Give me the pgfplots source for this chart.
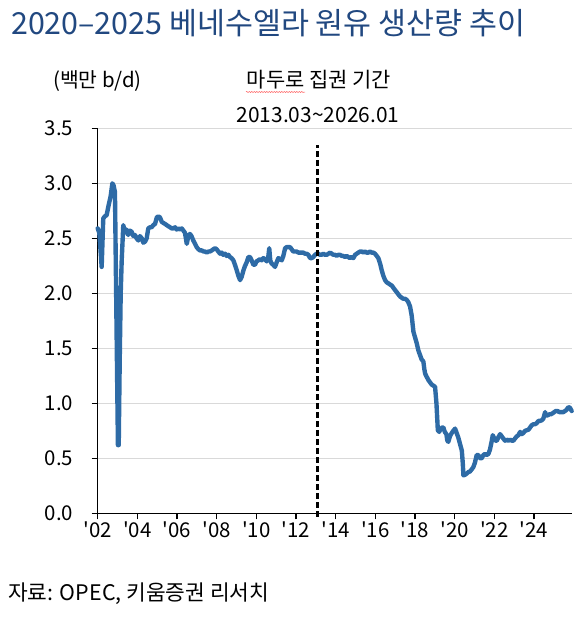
\documentclass[border=0pt]{standalone}
\usepackage{pgfplots}
\pgfplotsset{compat=1.18}
\usetikzlibrary{decorations.pathmorphing}
\usepackage{fontspec}
\setmainfont{Noto Sans CJK KR}
\definecolor{linec}{RGB}{46,107,166}
\definecolor{gridc}{RGB}{217,217,217}
\definecolor{titlec}{RGB}{33,72,128}
\begin{document}
\begin{tikzpicture}
\useasboundingbox (0,0) rectangle (588bp,-620bp);
\node[anchor=west,text=titlec,font=\fontsize{30.5}{33}\selectfont,inner sep=0pt] at (11bp,-23bp) {2020–2025 베네수엘라 원유 생산량 추이};
\node[font=\fontsize{20.5}{24}\selectfont,inner sep=0pt] at (97.5bp,-81bp) {(백만 b/d)};
\node[font=\fontsize{21}{24}\selectfont,inner sep=0pt] at (319bp,-80bp) {마두로 집권 기간};
\draw[red!65, line width=0.5pt, decorate, decoration={snake, amplitude=0.6bp, segment length=2.5bp}] (246bp,-92bp) -- (305bp,-92bp);
\node[font=\fontsize{21}{24}\selectfont,inner sep=0pt] at (318bp,-115bp) {2013.03\char"007E 2026.01};
\node[anchor=west,font=\fontsize{21.5}{24}\selectfont,inner sep=0pt] at (8bp,-594bp) {자료: OPEC, 키움증권 리서치};
\begin{axis}[
  at={(97.7bp,-513.3bp)}, anchor=south west,
  scale only axis, width=474bp, height=385bp,
  xmin=2002, xmax=2025.9, ymin=0, ymax=3.5,
  clip=false,
  axis x line*=bottom, axis y line*=left,
  axis line style={black, line width=1.2pt, -},
  xtick={2002,2004,...,2024},
  xticklabels={\textquotesingle 02,\textquotesingle 04,\textquotesingle 06,\textquotesingle 08,\textquotesingle 10,\textquotesingle 12,\textquotesingle 14,\textquotesingle 16,\textquotesingle 18,\textquotesingle 20,\textquotesingle 22,\textquotesingle 24},
  ytick={0,0.5,...,3.5},
  yticklabel style={/pgf/number format/fixed, /pgf/number format/fixed zerofill, /pgf/number format/precision=1, /pgf/number format/assume math mode=true, xshift=-15bp},
  xticklabel style={yshift=1bp},
  tick label style={font=\fontsize{20.5}{24}\selectfont},
  tick align=outside, major tick length=6bp,
  tick style={black, line width=1.2pt},
  ymajorgrids, grid style={gridc, line width=1.6pt},
]
\addplot[linec, line width=4.4pt, line join=round, line cap=round] coordinates {
(2002.00,2.59)(2002.08,2.55)(2002.14,2.40)(2002.20,2.24)(2002.28,2.68)(2002.36,2.70)(2002.45,2.71)
(2002.55,2.80)(2002.65,2.88)(2002.74,3.00)(2002.80,2.98)(2002.87,2.92)
(2003.02,0.62)(2003.06,0.62)(2003.11,1.39)(2003.16,2.00)(2003.21,2.30)(2003.29,2.62)
(2003.37,2.55)(2003.45,2.58)(2003.54,2.53)(2003.62,2.57)(2003.71,2.56)(2003.80,2.52)(2003.88,2.53)
(2003.96,2.50)(2004.05,2.48)(2004.13,2.52)(2004.22,2.50)(2004.30,2.46)(2004.39,2.47)(2004.47,2.50)
(2004.55,2.59)(2004.63,2.60)(2004.72,2.60)(2004.80,2.62)(2004.89,2.63)(2004.98,2.69)(2005.06,2.70)
(2005.14,2.69)(2005.23,2.65)(2005.31,2.64)(2005.40,2.63)(2005.48,2.62)(2005.56,2.61)(2005.65,2.60)
(2005.73,2.59)(2005.81,2.59)(2005.90,2.60)(2005.98,2.58)(2006.07,2.59)(2006.15,2.58)(2006.24,2.59)
(2006.32,2.57)(2006.40,2.55)(2006.49,2.45)(2006.57,2.52)(2006.65,2.54)(2006.73,2.52)(2006.82,2.48)
(2006.91,2.45)(2006.99,2.42)(2007.08,2.40)(2007.16,2.39)(2007.25,2.39)(2007.33,2.38)(2007.41,2.38)
(2007.50,2.37)(2007.58,2.38)(2007.66,2.38)(2007.75,2.39)(2007.83,2.40)(2007.92,2.41)(2008.00,2.40)
(2008.08,2.38)(2008.17,2.36)(2008.25,2.37)(2008.33,2.35)(2008.42,2.36)(2008.50,2.34)(2008.59,2.35)
(2008.67,2.33)(2008.75,2.32)(2008.84,2.30)(2008.92,2.26)(2009.01,2.21)(2009.09,2.16)(2009.18,2.12)
(2009.26,2.15)(2009.35,2.21)(2009.43,2.25)(2009.51,2.28)(2009.60,2.33)(2009.68,2.33)(2009.76,2.30)
(2009.85,2.26)(2009.93,2.26)(2010.01,2.29)(2010.10,2.30)(2010.18,2.31)(2010.27,2.30)(2010.35,2.32)
(2010.44,2.31)(2010.52,2.29)(2010.60,2.33)(2010.65,2.41)(2010.70,2.30)(2010.77,2.27)(2010.85,2.26)
(2010.94,2.24)(2011.02,2.28)(2011.11,2.32)(2011.19,2.31)(2011.28,2.30)(2011.36,2.34)(2011.45,2.41)
(2011.53,2.42)(2011.61,2.42)(2011.70,2.42)(2011.78,2.40)(2011.86,2.38)(2011.95,2.38)(2012.03,2.38)
(2012.12,2.37)(2012.20,2.37)(2012.29,2.37)(2012.37,2.37)(2012.45,2.36)(2012.54,2.36)(2012.62,2.35)
(2012.71,2.32)(2012.79,2.32)(2012.87,2.33)(2012.96,2.35)(2013.04,2.36)(2013.12,2.36)(2013.21,2.35)
(2013.29,2.35)(2013.38,2.36)(2013.46,2.35)(2013.55,2.35)(2013.63,2.36)(2013.72,2.37)(2013.80,2.36)
(2013.88,2.35)(2013.97,2.35)(2014.05,2.34)(2014.13,2.35)(2014.22,2.35)(2014.30,2.34)(2014.38,2.34)
(2014.47,2.33)(2014.55,2.34)(2014.63,2.33)(2014.72,2.32)(2014.80,2.33)(2014.89,2.32)(2014.98,2.35)
(2015.06,2.36)(2015.14,2.37)(2015.23,2.38)(2015.31,2.38)(2015.40,2.37)(2015.48,2.38)(2015.56,2.37)
(2015.65,2.37)(2015.73,2.38)(2015.81,2.37)(2015.90,2.37)(2015.98,2.36)(2016.07,2.34)(2016.15,2.32)
(2016.24,2.27)(2016.32,2.21)(2016.40,2.16)(2016.49,2.12)(2016.57,2.10)(2016.66,2.09)(2016.74,2.08)
(2016.83,2.07)(2016.91,2.05)(2016.99,2.03)(2017.08,2.01)(2017.16,1.99)(2017.25,1.97)(2017.33,1.96)
(2017.41,1.95)(2017.50,1.95)(2017.58,1.94)(2017.66,1.92)(2017.75,1.88)(2017.83,1.80)(2017.92,1.65)
(2018.00,1.60)(2018.08,1.55)(2018.17,1.48)(2018.25,1.44)(2018.33,1.40)(2018.42,1.38)(2018.47,1.31)
(2018.51,1.27)(2018.59,1.24)(2018.68,1.21)(2018.76,1.19)(2018.84,1.17)(2018.93,1.16)(2019.01,1.15)
(2019.08,1.00)(2019.15,0.755)(2019.22,0.74)(2019.30,0.77)(2019.37,0.78)(2019.43,0.78)(2019.50,0.74)
(2019.58,0.72)(2019.63,0.66)(2019.68,0.65)(2019.76,0.70)(2019.85,0.73)(2019.93,0.75)(2020.02,0.77)
(2020.10,0.73)(2020.18,0.69)(2020.27,0.63)(2020.36,0.57)(2020.41,0.45)(2020.44,0.345)(2020.52,0.35)
(2020.60,0.36)(2020.69,0.375)(2020.77,0.38)(2020.86,0.40)(2020.94,0.42)(2021.02,0.46)(2021.11,0.53)
(2021.19,0.53)(2021.28,0.50)(2021.36,0.50)(2021.45,0.53)(2021.53,0.54)(2021.61,0.53)(2021.70,0.54)
(2021.78,0.58)(2021.86,0.65)(2021.92,0.71)(2022.00,0.68)(2022.06,0.66)(2022.12,0.66)(2022.20,0.69)
(2022.29,0.72)(2022.37,0.70)(2022.45,0.68)(2022.54,0.66)(2022.62,0.67)(2022.71,0.66)(2022.79,0.67)
(2022.88,0.66)(2022.96,0.66)(2023.04,0.68)(2023.13,0.70)(2023.21,0.71)(2023.30,0.74)(2023.38,0.72)
(2023.46,0.73)(2023.55,0.75)(2023.63,0.755)(2023.72,0.76)(2023.80,0.78)(2023.88,0.80)(2023.97,0.81)
(2024.05,0.81)(2024.14,0.82)(2024.22,0.84)(2024.30,0.84)(2024.39,0.845)(2024.47,0.86)(2024.56,0.92)
(2024.60,0.89)(2024.68,0.89)(2024.77,0.90)(2024.85,0.90)(2024.94,0.91)(2025.02,0.92)(2025.10,0.93)
(2025.19,0.93)(2025.27,0.92)(2025.35,0.92)(2025.48,0.92)(2025.56,0.93)(2025.64,0.94)(2025.73,0.965)
(2025.81,0.96)(2025.90,0.93)
};
\addplot[black, line width=2.2pt, dash pattern=on 6bp off 3bp] coordinates {(2013.08,-0.03)(2013.08,3.35)};
\end{axis}
\end{tikzpicture}
\end{document}
